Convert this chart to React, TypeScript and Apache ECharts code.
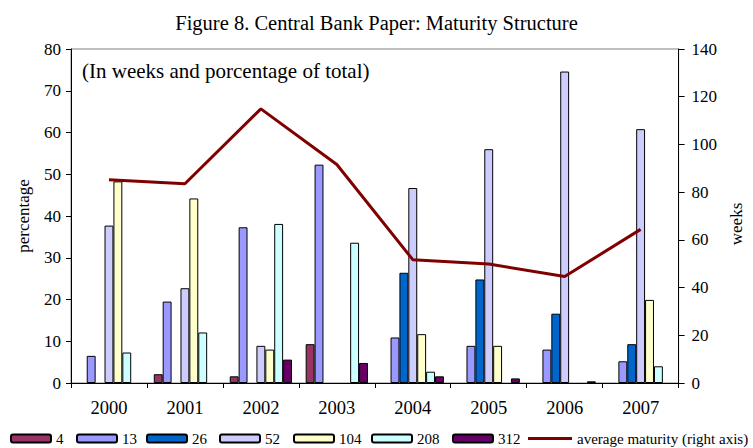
import React, { useEffect, useRef } from "react";
import * as echarts from "echarts";

const years = ["2000", "2001", "2002", "2003", "2004", "2005", "2006", "2007"];
const s4 = [null, 2.1, 1.6, 9.3, null, null, null, null];
const s13 = [6.5, 19.5, 37.3, 52.3, 10.9, 8.9, 8.0, 5.2];
const s26 = [null, null, null, null, 26.4, 24.8, 16.6, 9.3];
const s52 = [37.7, 22.7, 8.9, null, 46.7, 56.0, 74.6, 60.8];
const s104 = [48.3, 44.2, 8.0, null, 11.7, 8.9, null, 19.9];
const s208 = [7.3, 12.1, 38.1, 33.6, 2.7, null, null, 4.0];
const s312 = [null, null, 5.6, 4.8, 1.6, 1.1, 0.4, null];
const avgMaturity = [85.2, 83.5, 114.9, 91.6, 51.7, 49.9, 44.6, 64.4];
const leftTicks = [0, 80, 10];
const rightTicks = [0, 140, 20];
const lineName = "average maturity (right axis)";

const barSeries = [
  { name: "4", data: s4, color: "#993366" },
  { name: "13", data: s13, color: "#9999FF" },
  { name: "26", data: s26, color: "#0066CC" },
  { name: "52", data: s52, color: "#CCCCFF" },
  { name: "104", data: s104, color: "#FFFFCC" },
  { name: "208", data: s208, color: "#CCFFFF" },
  { name: "312", data: s312, color: "#660066" },
];
const legendLefts = [10, 76, 146, 219, 293, 371, 452];

const FONT = "'Liberation Serif', 'Times New Roman', serif";

export default function App() {
  const ref = useRef<HTMLDivElement>(null);
  useEffect(() => {
    document.body.style.margin = "0";
    const chart = echarts.init(ref.current!, null, { renderer: "svg" });
    const legendBase = {
      top: 431,
      padding: 0,
      itemHeight: 8,
      textStyle: { fontFamily: FONT, fontSize: 15, color: "#000" },
    };
    chart.setOption({
      animation: false,
      textStyle: { fontFamily: FONT, color: "#000" },
      title: {
        text: "Figure 8. Central Bank Paper: Maturity Structure",
        left: "center",
        top: 7,
        textStyle: { fontFamily: FONT, fontSize: 20.5, fontWeight: "normal", color: "#000" },
      },
      graphic: [
        {
          type: "text",
          left: 82,
          top: 60,
          style: {
            text: "(In weeks and porcentage of total)",
            font: `21px ${FONT}`,
            fill: "#000",
          },
        },
      ],
      legend: [
        ...barSeries.map((s, i) => ({
          ...legendBase,
          left: legendLefts[i],
          itemWidth: 40,
          data: [s.name],
        })),
        {
          ...legendBase,
          left: 528,
          itemWidth: 44,
          itemHeight: 3,
          data: [
            {
              name: lineName,
              icon: "rect",
              itemStyle: { color: "#800000", borderWidth: 0 },
            },
          ],
        },
      ],
      grid: {
        left: 71,
        right: 69,
        top: 49,
        bottom: 65,
        show: true,
        borderColor: "#808080",
        borderWidth: 1,
      },
      xAxis: {
        type: "category",
        data: years,
        boundaryGap: true,
        axisLine: { lineStyle: { color: "#000", width: 1 } },
        axisTick: { show: true, interval: 0, length: 5, lineStyle: { color: "#000" } },
        axisLabel: { fontFamily: FONT, fontSize: 18.5, color: "#000", margin: 15 },
      },
      yAxis: [
        {
          type: "value",
          min: leftTicks[0],
          max: leftTicks[1],
          interval: leftTicks[2],
          name: "percentage",
          nameLocation: "middle",
          nameRotate: 90,
          nameGap: 39,
          nameTextStyle: { fontFamily: FONT, fontSize: 17, color: "#000" },
          axisLine: { show: true, lineStyle: { color: "#000" } },
          axisTick: { show: true, length: 5, lineStyle: { color: "#000" } },
          axisLabel: { fontFamily: FONT, fontSize: 17, color: "#000", margin: 10 },
          splitLine: { show: false },
        },
        {
          type: "value",
          min: rightTicks[0],
          max: rightTicks[1],
          interval: rightTicks[2],
          position: "right",
          name: "weeks",
          nameLocation: "middle",
          nameRotate: 90,
          nameGap: 49,
          nameTextStyle: { fontFamily: FONT, fontSize: 17, color: "#000", padding: [0, 16, 0, 0] },
          axisLine: { show: true, lineStyle: { color: "#000" } },
          axisTick: { show: true, length: 6, lineStyle: { color: "#000" } },
          axisLabel: { fontFamily: FONT, fontSize: 17, color: "#000", margin: 13 },
          splitLine: { show: false },
        },
      ],
      series: [
        ...barSeries.map((s) => ({
          name: s.name,
          type: "bar",
          data: s.data,
          barGap: "0%",
          barCategoryGap: "18%",
          itemStyle: { color: s.color, borderColor: "#000", borderWidth: 1 },
        })),
        {
          name: lineName,
          type: "line",
          yAxisIndex: 1,
          data: avgMaturity,
          symbol: "none",
          z: 10,
          lineStyle: { color: "#800000", width: 3 },
          itemStyle: { color: "#800000" },
        },
      ],
    });
    return () => chart.dispose();
  }, []);
  return <div ref={ref} style={{ width: 753, height: 448 }} />;
}
